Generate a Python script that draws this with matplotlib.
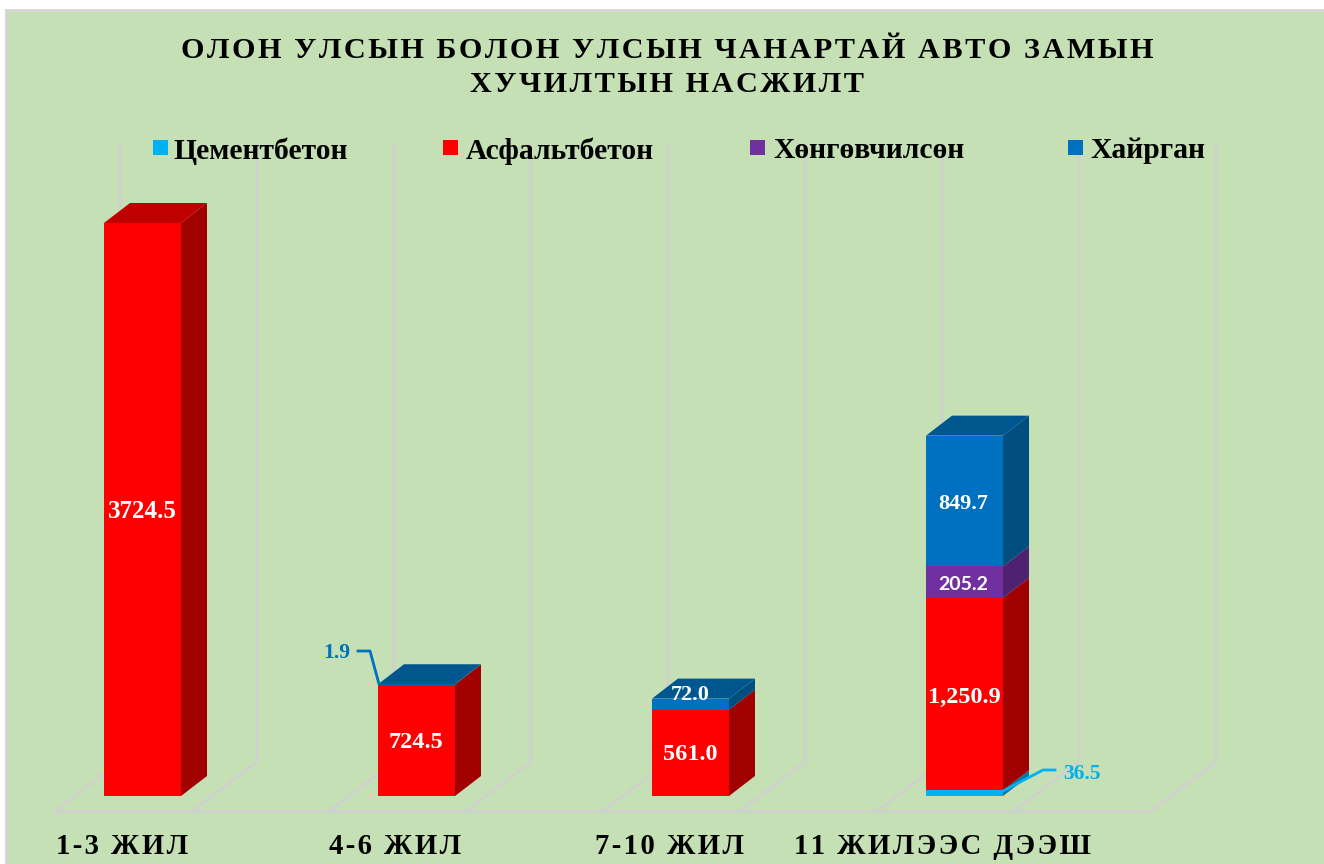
import matplotlib
matplotlib.use("Agg")
import matplotlib.pyplot as plt
from matplotlib.patches import Rectangle, Polygon

plt.rcParams['font.family'] = ['Liberation Serif', 'DejaVu Sans']

# Data
categories = ["1-3 ЖИЛ", "4-6 ЖИЛ", "7-10 ЖИЛ", "11 ЖИЛЭЭС ДЭЭШ"]
series_names = ["Цементбетон", "Асфальтбетон", "Хөнгөвчилсөн", "Хайрган"]
cement = [0, 0, 0, 36.5]
asphalt = [3724.5, 724.5, 561.0, 1250.9]
light = [0, 0, 0, 205.2]
gravel = [0, 1.9, 72.0, 849.7]
title_lines = ["ОЛОН УЛСЫН БОЛОН УЛСЫН ЧАНАРТАЙ АВТО ЗАМЫН", "ХУЧИЛТЫН НАСЖИЛТ"]

front_colors = ['#00b0f0', '#ff0000', '#7030a0', '#0070c0']
side_colors = ['#007ba8', '#a00000', '#4e2270', '#004e80']
top_colors = ['#0090c4', '#c00000', '#5a2885', '#00578f']

W, H = 1324, 864
PX_X = 274.0      # pixels per category
PX_Y = 573 / 3724.5  # pixels per value unit
BAR_W = 77 / PX_X
DX = 26 / PX_X    # 3d depth
DY = 20 / PX_Y


def xp(px):
    return (px - 142.5) / PX_X


def yp(py):
    return (796 - py) / PX_Y


def spaced(s, sep):
    return sep.join(s)


fig = plt.figure(figsize=(W / 100, H / 100), dpi=100, facecolor='white')
ax = fig.add_axes([0, 0, 1, 1])
ax.set_xlim(xp(0), xp(W))
ax.set_ylim(yp(H), yp(0))
ax.axis('off')

# panel
ax.add_patch(Rectangle((xp(6), yp(H + 5)), xp(W + 5) - xp(6), yp(10) - yp(H + 5),
                       facecolor='#c5e0b4', edgecolor='#d4d4d4', linewidth=2, zorder=0))

# floor and walls
grid_c = '#d0d0d0'
floor_front = [55 + 137 * i for i in range(9)]
ax.plot([xp(55), xp(1149)], [yp(811), yp(811)], color=grid_c, lw=1.9, zorder=1)
for fx in floor_front:
    ax.plot([xp(fx), xp(fx + 65), xp(fx + 65)], [yp(811), yp(762), yp(145)],
            color=grid_c, lw=1.9, zorder=1)

# bars
stack = [cement, asphalt, light, gravel]
for i in range(len(categories)):
    bottom = 0
    x0 = i - BAR_W / 2
    x1 = i + BAR_W / 2
    visible = [k for k in range(4) if stack[k][i] > 0]
    for k in visible:
        v = stack[k][i]
        top = bottom + v
        ax.bar(i, v, BAR_W, bottom=bottom, color=front_colors[k], zorder=3 + k)
        ax.add_patch(Polygon([(x1, bottom), (x1 + DX, bottom + DY), (x1 + DX, top + DY), (x1, top)],
                             facecolor=side_colors[k], zorder=3 + k))
        if k == visible[-1]:
            ax.add_patch(Polygon([(x0, top), (x0 + DX, top + DY), (x1 + DX, top + DY), (x1, top)],
                                 facecolor=top_colors[k], zorder=3 + k))
        bottom = top

# value labels
white = dict(color='white', fontweight='bold', ha='center', va='center', zorder=10)
ax.text(xp(142), yp(512), f"{asphalt[0]:.1f}", fontsize=18, **white)
ax.text(xp(416), yp(742), f"{asphalt[1]:.1f}", fontsize=17.5, **white)
ax.text(xp(690), yp(755), f"{asphalt[2]:.1f}", fontsize=17.5, **white)
ax.text(xp(690), yp(695), f"{gravel[2]:.1f}", fontsize=16, **white)
ax.text(xp(964), yp(697), f"{asphalt[3]:,.1f}", fontsize=17.5, **white)
ax.text(xp(963), yp(585), f"{light[3]:.1f}", fontsize=14, family='Lato', **white)
ax.text(xp(963), yp(504), f"{gravel[3]:.1f}", fontsize=16, **white)

# outside labels with leader lines
ax.text(xp(337), yp(653), f"{gravel[1]:.1f}", color='#0070c0', fontsize=15.5, fontweight='bold',
        ha='center', va='center', zorder=10)
ax.plot([xp(358), xp(370), xp(379)], [yp(651), yp(651), yp(684)], color='#0070c0', lw=2, zorder=10)
ax.text(xp(1082), yp(774), f"{cement[3]:.1f}", color='#00b0f0', fontsize=15.5, fontweight='bold',
        ha='center', va='center', zorder=10)
ax.plot([xp(1003), xp(1043), xp(1055)], [yp(791), yp(770), yp(770)], color='#00b0f0', lw=2, zorder=10)

# title
ax.text(xp(667), yp(50), spaced(title_lines[0], '\u200a'), fontsize=21.8, fontweight='bold',
        ha='center', va='center', color='black', zorder=10)
ax.text(xp(667), yp(85), spaced(title_lines[1], '\u200a'), fontsize=21.8, fontweight='bold',
        ha='center', va='center', color='black', zorder=10)

# legend
legend_sq = [153, 443, 750, 1068]
legend_tx = [173, 466, 773, 1090]
for k in range(4):
    ax.add_patch(Rectangle((xp(legend_sq[k]), yp(155)), 15 / PX_X, 15 / PX_Y,
                           facecolor=front_colors[k], edgecolor='none', zorder=10))
    ax.text(xp(legend_tx[k]), yp(151), series_names[k], fontsize=21.3, fontweight='bold',
            ha='left', va='center', color='black', zorder=10)

# category labels
cat_x = [122, 395, 669, 942]
for i, c in enumerate(categories):
    ax.text(xp(cat_x[i]), yp(847), spaced(c, '\u200a'), fontsize=20.7, fontweight='bold',
            ha='center', va='center', color='black', zorder=10)

fig.savefig('out.png', dpi=100)
